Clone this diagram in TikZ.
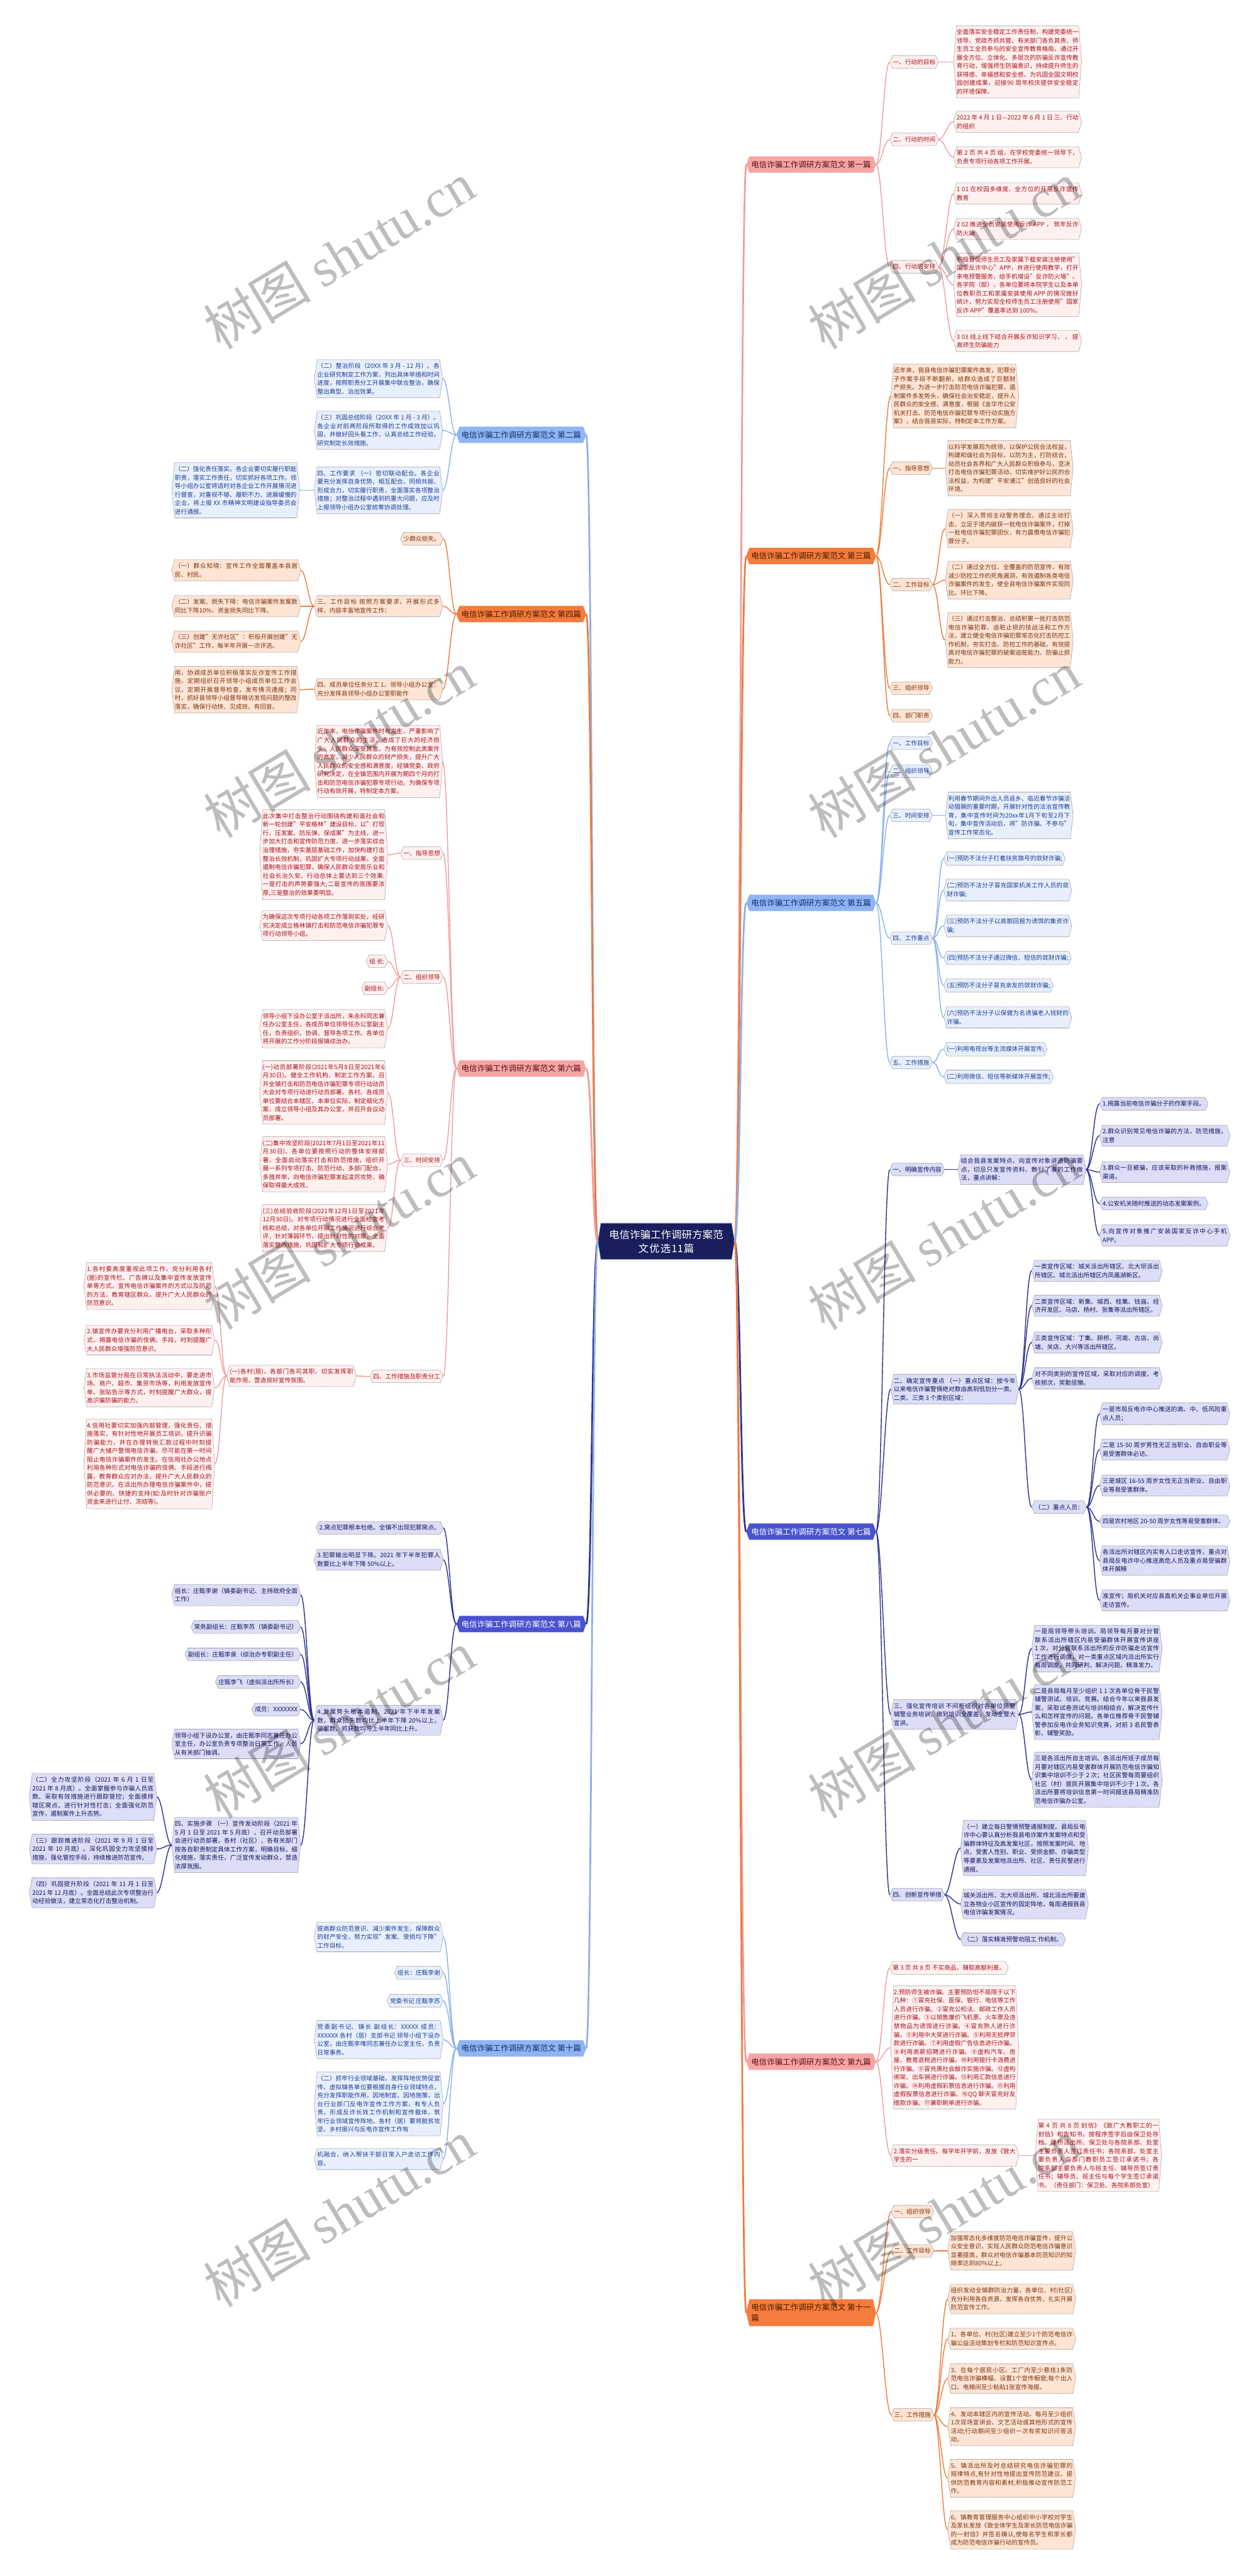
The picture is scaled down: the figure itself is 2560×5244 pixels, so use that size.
\documentclass[tikz,border=0pt]{standalone}
\usepackage{fontspec}
\setmainfont{Noto Sans CJK SC}
\newfontfamily\wmserif{Liberation Serif}
\XeTeXlinebreaklocale "zh"
\XeTeXlinebreakskip=0pt plus 1pt
\usetikzlibrary{backgrounds}
\setlength{\parindent}{0pt}
% colours
\definecolor{pkC}{HTML}{F19C9C}\definecolor{pkF}{HTML}{FFF0F0}\definecolor{pkT}{HTML}{A8151B}\definecolor{pkB}{HTML}{F6A5A5}\definecolor{pkBT}{HTML}{5C1010}
\definecolor{orC}{HTML}{EE7B3B}\definecolor{orF}{HTML}{FDE4D4}\definecolor{orT}{HTML}{7B3511}\definecolor{orB}{HTML}{F47C3C}\definecolor{orBT}{HTML}{4A1B00}
\definecolor{lbC}{HTML}{8BB0EE}\definecolor{lbF}{HTML}{E7EFFC}\definecolor{lbT}{HTML}{1D3F94}\definecolor{lbB}{HTML}{8EB4F3}\definecolor{lbBT}{HTML}{15306B}
\definecolor{inC}{HTML}{2C3192}\definecolor{inF}{HTML}{DCDDF6}\definecolor{inT}{HTML}{14155E}\definecolor{inB}{HTML}{4953CF}
\definecolor{rtF}{HTML}{1A1E5C}
\tikzset{
 base/.style={font=\fontsize{12.4}{17.3}\selectfont, inner xsep=6pt, inner ysep=7pt},
 brbase/.style={font=\fontsize{16}{21}\selectfont, inner xsep=10pt, inner ysep=9pt, align=left},
 bdr/.style={draw=black!55, line width=0.7pt, dash pattern=on 1.5pt off 1pt},
 txpk/.style={base, text=pkT}, bgpk/.style={bdr, fill=pkF},
 txor/.style={base, text=orT}, bgor/.style={bdr, fill=orF},
 txlb/.style={base, text=lbT}, bglb/.style={bdr, fill=lbF},
 txin/.style={base, text=inT}, bgin/.style={bdr, fill=inF},
 txpkB/.style={brbase, text=pkBT}, bgpkB/.style={fill=pkB},
 txorB/.style={brbase, text=orBT}, bgorB/.style={fill=orB},
 txlbB/.style={brbase, text=lbBT}, bglbB/.style={fill=lbB},
 txinB/.style={brbase, text=white}, bginB/.style={fill=inB},
 txrt/.style={font=\fontsize{21}{28}\selectfont, text=white, inner xsep=17pt, inner ysep=13pt, text width=244pt, align=center},
 bgrt/.style={fill=rtF, draw=lbC, line width=0.8pt},
 cpk/.style={draw=pkC, line width=1.8pt}, cor/.style={draw=orC, line width=1.8pt},
 clb/.style={draw=lbC, line width=1.8pt}, cin/.style={draw=inC, line width=1.8pt},
 Rpk/.style={draw=pkC, line width=3.5pt}, Ror/.style={draw=orC, line width=3.5pt},
 Rlb/.style={draw=lbC, line width=3.5pt}, Rin/.style={draw=inC, line width=3.5pt},
 wm/.style={rotate=31, text=black, text opacity=0.26, font=\fontsize{110}{110}\selectfont, inner sep=0pt}
}
\newcommand{\mmhex}[2]{%
 \begin{scope}[on background layer]
 \path[#2] ([xshift=6pt]#1.north west) -- ([xshift=-6pt]#1.north east) -- (#1.east) -- ([xshift=-6pt]#1.south east) -- ([xshift=6pt]#1.south west) -- (#1.west) -- cycle;
 \end{scope}}
\newcommand{\mmW}[7]{\node[tx#2, anchor=#3, text width=#6pt, align=justify] (#1) at (#4,#5) {#7};\mmhex{#1}{bg#2}}
\newcommand{\mmN}[6]{\node[tx#2, anchor=#3] (#1) at (#4,#5) {#6};\mmhex{#1}{bg#2}}
\newcommand{\lkR}[3]{\draw[#1] (#2.east) .. controls +(12,0) and +(-12,0) .. (#3.west);}
\newcommand{\lkL}[3]{\draw[#1] (#2.west) .. controls +(-12,0) and +(12,0) .. (#3.east);}
\begin{document}
\begin{tikzpicture}[x=1pt,y=-1pt]
\begin{scope}[on background layer]
\fill[white] (0,0) rectangle (2560,5244);
\end{scope}
\path[use as bounding box] (0,0) rectangle (2560,5244);

% root
\node[txrt, anchor=center] (root) at (1356,2527) {电信诈骗工作调研方案范\\文优选11篇};
\mmhex{root}{bgrt}

% ===== 第一篇 =====
\mmN{b1}{pkB}{west}{1519}{335}{电信诈骗工作调研方案范文 第一篇}
\mmN{b1a}{pk}{west}{1811}{126}{一、行动的目标}
\mmW{b1a1}{pk}{west}{1941}{126}{248}{全面落实安全稳定工作责任制，构建党委统一领导、党政齐抓共管、有关部门各负其责、师生员工全员参与的安全宣传教育格局，通过开展全方位、立体化、多层次的防骗反诈宣传教育行动，增强师生防骗意识，持续提升师生的获得感、幸福感和安全感，为巩固全国文明校园创建成果，迎接90 周年校庆提供安全稳定的环境保障。}
\mmN{b1b}{pk}{west}{1811}{284}{二、行动的时间}
\mmW{b1b1}{pk}{west}{1941}{248}{248}{2022 年 4 月 1 日—2022 年 6 月 1 日 三、行动的组织}
\mmW{b1b2}{pk}{west}{1941}{320}{248}{第 2 页 共 4 页 组，在学校党委统一领导下，负责专项行动各项工作开展。}
\mmN{b1c}{pk}{west}{1811}{543}{四、行动的安排}
\mmW{b1c1}{pk}{west}{1941}{394}{248}{1 01 在校园多维度、全方位的开展反诈宣传教育}
\mmW{b1c2}{pk}{west}{1941}{466}{248}{2 02 推进全员安装使用反诈 APP ， 筑牢反诈防火墙}
\mmW{b1c3}{pk}{west}{1941}{580}{248}{积极督促师生员工及家属下载安装注册使用"国家反诈中心"APP，并进行使用教学，打开来电预警服务，给手机增设"反诈防火墙"。各学院（部）、各单位要将本院学生以及本单位教职员工和家属安装使用 APP 的情况做好统计，努力实现全校师生员工注册使用"国家反诈 APP"覆盖率达到 100\%。}
\mmW{b1c4}{pk}{west}{1941}{694}{248}{3 03 线上线下结合开展反诈知识学习， ， 提高师生防骗能力}

% ===== 第三篇 =====
\mmN{b3}{orB}{west}{1519}{1132}{电信诈骗工作调研方案范文 第三篇}
\mmW{b3a}{or}{west}{1813}{806}{248}{近年来，我县电信诈骗犯罪案件高发，犯罪分子作案手段不断翻新，给群众造成了巨额财产损失。为进一步打击防范电信诈骗犯罪，遏制案件多发势头，确保社会治安稳定，提升人民群众的安全感、满意度，根据《金华市公安机关打击、防范电信诈骗犯罪专项行动实施方案》，结合我县实际，特制定本工作方案。}
\mmN{b3b}{or}{west}{1811}{953}{一、指导思想}
\mmW{b3b1}{or}{west}{1924}{953}{248}{以科学发展观为统领，以保护公民合法权益，构建和谐社会为目标，以防为主，打防结合，动员社会各界和广大人民群众积极参与，坚决打击电信诈骗犯罪活动，切实维护好公民的合法权益，为构建"平安浦江"创造良好的社会环境。}
\mmN{b3c}{or}{west}{1811}{1190}{二、工作目标}
\mmW{b3c1}{or}{west}{1924}{1076}{248}{（一）深入贯彻主动警务理念，通过主动打击，立足于境内破获一批电信诈骗案件，打掉一批电信诈骗犯罪团伙，有力震慑电信诈骗犯罪分子。}
\mmW{b3c2}{or}{west}{1924}{1181}{248}{（二）通过全方位、全覆盖的防范宣传，有效减少防控工作的死角漏洞，有效遏制各类电信诈骗案件的发生，使全县电信诈骗案件实现同比、环比下降。}
\mmW{b3c3}{or}{west}{1924}{1303}{248}{（三）通过打击整治，总结积累一批打击防范电信诈骗犯罪、追赃止损的技战法和工作方法，建立健全电信诈骗犯罪常态化打击防控工作机制，夯实打击、防控工作的基础，有效提高对电信诈骗犯罪的破案追赃能力、防骗止损能力。}
\mmN{b3d}{or}{west}{1811}{1401}{三、组织领导}
\mmN{b3e}{or}{west}{1811}{1457}{四、部门职责}

% ===== 第五篇 =====
\mmN{b5}{lbB}{west}{1519}{1838}{电信诈骗工作调研方案范文 第五篇}
\mmN{b5a}{lb}{west}{1811}{1513}{一、工作目标}
\mmN{b5b}{lb}{west}{1811}{1570}{二、组织领导}
\mmN{b5c}{lb}{west}{1811}{1660}{三、时间安排}
\mmW{b5c1}{lb}{west}{1924}{1660}{248}{利用春节期间外出人员返乡、临近春节诈骗活动猖獗的重要时期，开展针对性的法治宣传教育，集中宣传时间为20xx年1月下旬至2月下旬，集中宣传活动后，将"防诈骗、不参与"宣传工作常态化。}
\mmN{b5d}{lb}{west}{1811}{1910}{四、工作重点}
\mmN{b5d1}{lb}{west}{1921}{1748}{(一)预防不法分子打着扶贫旗号的敛财诈骗;}
\mmW{b5d2}{lb}{west}{1921}{1812}{248}{(二)预防不法分子冒充国家机关工作人员的敛财诈骗;}
\mmW{b5d3}{lb}{west}{1921}{1885}{248}{(三)预防不法分子以高额回报为诱饵的集资诈骗;}
\mmN{b5d4}{lb}{west}{1921}{1950}{(四)预防不法分子通过微信、短信的敛财诈骗;}
\mmN{b5d5}{lb}{west}{1921}{2006}{(五)预防不法分子冒充亲友的敛财诈骗;}
\mmW{b5d6}{lb}{west}{1921}{2071}{248}{(六)预防不法分子以保健为名诱骗老人钱财的诈骗。}
\mmN{b5e}{lb}{west}{1811}{2163}{五、工作措施}
\mmN{b5e1}{lb}{west}{1921}{2136}{(一)利用电视台等主流媒体开展宣传;}
\mmN{b5e2}{lb}{west}{1921}{2192}{(二)利用微信、短信等新媒体开展宣传;}

% ===== 第七篇 =====
\mmN{b7}{inB}{west}{1519}{3118}{电信诈骗工作调研方案范文 第七篇}
\mmN{b7a}{in}{west}{1811}{2381}{一、明确宣传内容}
\mmW{b7a1}{in}{west}{1950}{2381}{248}{结合我县发案特点，向宣传对象讲透防骗要点，切忌只发宣传资料、敷衍了事的工作做法，重点讲解：}
\mmN{b7a1a}{in}{west}{2238}{2247}{1.揭露当前电信诈骗分子的作案手段。}
\mmW{b7a1b}{in}{west}{2238}{2312}{253}{2.群众识别常见电信诈骗的方法，防范措施，注意}
\mmW{b7a1c}{in}{west}{2238}{2386}{253}{3.群众一旦被骗，应该采取的补救措施，报案渠道。}
\mmN{b7a1d}{in}{west}{2238}{2450}{4.公安机关随时推送的动态发案案例。}
\mmW{b7a1e}{in}{west}{2238}{2515}{253}{5.向宣传对象推广安装国家反诈中心手机APP。}
\mmW{b7b}{in}{west}{1813}{2828}{248}{二、确定宣传重点 （一）重点区域：按今年以来电信诈骗警情绝对数由高到低划分一类、二类、三类 3 个类别区域：}
\mmW{b7b1}{in}{west}{2100}{2587}{253}{一类宣传区域：城关派出所辖区、北大坝派出所辖区、城北派出所辖区内凤凰湖新区。}
\mmW{b7b2}{in}{west}{2100}{2658}{253}{二类宣传区域：新集、城西、桂集、钱庙、经济开发区、马店、杨村、张集等派出所辖区。}
\mmW{b7b3}{in}{west}{2100}{2733}{253}{三类宣传区域：丁集、顾桥、河南、古店、尚塘、关店、大兴等派出所辖区。}
\mmW{b7b4}{in}{west}{2100}{2806}{253}{对不同类别的宣传区域，采取对应的调度、考核频次，奖勤惩懒。}
\mmN{b7b5}{in}{west}{2100}{3068}{（二）重点人员：}
\mmW{b7b5a}{in}{west}{2238}{2878}{253}{一是市局反电诈中心推送的高、中、低风险重点人员；}
\mmW{b7b5b}{in}{west}{2238}{2951}{253}{二是 15-50 周岁男性无正当职业、自由职业等易受害群体必访。}
\mmW{b7b5c}{in}{west}{2238}{3024}{253}{三是城区 16-55 周岁女性无正当职业、自由职业等易受害群体。}
\mmW{b7b5d}{in}{west}{2238}{3097}{253}{四是农村地区 20-50 周岁女性等易受害群体。}
\mmW{b7b5e}{in}{west}{2238}{3177}{253}{各派出所对辖区内实有人口走访宣传，重点对县局反电诈中心推送高危人员及重点易受骗群体开展精}
\mmW{b7b5f}{in}{west}{2238}{3258}{253}{准宣传；局机关对应县直机关企事业单位开展走访宣传。}
\mmW{b7c}{in}{west}{1813}{3490}{248}{三、强化宣传培训 不间断组织对各单位民警辅警业务培训，做到培训全覆盖，发动全警大宣讲。}
\mmW{b7c1}{in}{west}{2100}{3356}{253}{一是局领导带头培训。局领导每月要对分管联系派出所辖区内易受骗群体开展宣传讲座 1 次，对分管联系派出所的反诈防骗走访宣传工作进行调度，对一类重点区域内派出所实行每周调度，共同研判，解决问题，精准发力。}
\mmW{b7c2}{in}{west}{2100}{3485}{253}{二是县局每月至少组织 1 1 次各单位骨干民警辅警测试、培训、竞赛。结合今年以来我县发案，采取试卷测试与培训相结合，解决宣传什么和怎样宣传的问题。各单位推荐骨干民警辅警参加反电诈业务知识竞赛，对前 3 名民警表彰、辅警奖励。}
\mmW{b7c3}{in}{west}{2100}{3623}{253}{三是各派出所自主培训。各派出所班子成员每月要对辖区内易受害群体开展防范电信诈骗知识集中培训不少于 2 次；社区民警每周要组织社区（村）居民开展集中培训不少于 1 次。各派出所要将培训信息第一时间报送县局精准防范电信诈骗办公室。}
\mmN{b7d}{in}{west}{1811}{3857}{四、创新宣传举措}
\mmW{b7d1}{in}{west}{1955}{3762}{248}{（一）建立每日警情预警通报制度。县局反电诈中心要认真分析我县电诈案件发案特点和受骗群体特征及高发案社区，按照发案时间、地点、受害人性别、职业、受损金额、诈骗类型等要素及发案地派出所、社区、责任民警进行通报。}
\mmW{b7d2}{in}{west}{1955}{3876}{248}{城关派出所、北大坝派出所、城北派出所要建立各物业小区宣传的固定阵地，每周通报我县电信诈骗发案情况。}
\mmN{b7d3}{in}{west}{1955}{3948}{（二）落实精准预警劝阻工 作机制。}

% ===== 第九篇 =====
\mmN{b9}{pkB}{west}{1519}{4197}{电信诈骗工作调研方案范文 第九篇}
\mmN{b9a}{pk}{west}{1811}{4006}{第 3 页 共 8 页 不实商品，赚取高额利差。}
\mmW{b9b}{pk}{west}{1813}{4168}{248}{2.预防师生被诈骗。主要预防但不局限于以下几种：①冒充社保、医保、银行、电信等工作人员进行诈骗。②冒充公检法、邮政工作人员进行诈骗。③以销售廉价飞机票、火车票及违禁物品为诱饵进行诈骗。④冒充熟人进行诈骗。⑤利用中大奖进行诈骗。⑤利用无抵押贷款进行诈骗。⑦利用虚假广告信息进行诈骗。⑧利用高薪招聘进行诈骗。⑨虚构汽车、房屋、教育退税进行诈骗。⑩利用银行卡消费进行诈骗。⑪冒充黑社会敲诈实施诈骗。⑫虚构绑架、出车祸进行诈骗。⑬利用汇款信息进行诈骗。⑭利用虚假彩票信息进行诈骗。⑮利用虚假股票信息进行诈骗。⑯QQ 聊天冒充好友借款诈骗。⑰兼职刷单进行诈骗。}
\mmW{b9c}{pk}{west}{1813}{4388}{248}{2.落实分级责任。每学年开学前，发放《致大学生的一}
\mmW{b9c1}{pk}{west}{2107}{4388}{245}{第 4 页 共 8 页 封信》《致广大教职工的一封信》和告知书，按程序签字后由保卫处存档。建桥派出所、保卫处与各院系部、处室主要负责人签订责任书；各院系部、处室主要负责人与部门教职员工签订承诺书；各院系部主要负责人与班主任、辅导员签订责任书；辅导员、班主任与每个学生签订承诺书。（责任部门：保卫处、各院系部处室）}

% ===== 第十一篇 =====
\mmN{b11}{orB}{west}{1519}{4708}{电信诈骗工作调研方案范文 第十一\\篇}
\mmN{b11a}{or}{west}{1814}{4502}{一、组织领导}
\mmN{b11b}{or}{west}{1814}{4582}{二、工作目标}
\mmW{b11b1}{or}{west}{1929}{4582}{248}{加强常态化多维度防范电信诈骗宣传，提升公众安全意识，实现人民群众防范电信诈骗意识显著提高，群众对电信诈骗基本防范知识的知晓率达到80\%以上。}
\mmN{b11c}{or}{west}{1814}{4916}{三、工作措施}
\mmW{b11c1}{or}{west}{1929}{4680}{248}{组织发动全镇群防治力量，各单位、村(社区)充分利用各自资源，发挥各自优势，扎实开展防范宣传工作。}
\mmW{b11c2}{or}{west}{1929}{4761}{248}{1、各单位、村(社区)建立至少1个防范电信诈骗公益活动策划专栏和防范知识宣传点。}
\mmW{b11c3}{or}{west}{1929}{4842}{248}{3、在每个居民小区、工厂内至少悬挂1条防范电信诈骗横幅、设置1个宣传橱窗;每个出入口、电梯间至少粘贴1张宣传海报。}
\mmW{b11c4}{or}{west}{1929}{4940}{248}{4、发动本辖区内的宣传活动，每月至少组织1次现场宣讲会、文艺活动或其他形式的宣传活动;行动期间至少组织一次有奖知识问答活动。}
\mmW{b11c5}{or}{west}{1929}{5045}{248}{5、镇派出所及时总结研究电信诈骗犯罪的规律特点,有针对性地提出宣传防范建议，提供防范教育内容和素材,积极推动宣传防范工作。}
\mmW{b11c6}{or}{west}{1929}{5150}{248}{6、镇教育管理服务中心组织中小学校对学生及家长发放《致全体学生及家长防范电信诈骗的一封信》并签名确认,使每名学生和家长都成为防范电信诈骗行动的宣传员。}

% ===== 第二篇 =====
\mmN{b2}{lbB}{east}{1193}{885}{电信诈骗工作调研方案范文 第二篇}
\mmW{b2a}{lb}{east}{901}{771}{249}{（二）整治阶段（20XX 年 3 月 - 12 月）。各企业研究制定工作方案，列出具体举措和时间进度，按照职责分工开展集中联合整治，确保整出典型、治出效果。}
\mmW{b2b}{lb}{east}{901}{876}{249}{（三）巩固总结阶段（20XX 年 1 月 - 3 月）。各企业对前两阶段所取得的工作成效加以巩固，并做好回头看工作，认真总结工作经验，研究制定长效措施。}
\mmW{b2c}{lb}{east}{901}{998}{249}{四、工作要求 （一）密切联动配合。各企业要充分发挥自身优势，相互配合，同频共振、形成合力，切实履行职责，全面落实各项整治措施；对整治过程中遇到的重大问题，应及时上报领导小组办公室统筹协调处理。}
\mmW{b2c1}{lb}{east}{610}{998}{248}{（二）强化责任落实。各企业要切实履行职能职责，落实工作责任，切实抓好各项工作。领导小组办公室将适时对各企业工作开展情况进行督查，对重视不够、履职不力、进展缓慢的企业，将上报 XX 市精神文明建设指导委员会进行通报。}

% ===== 第四篇 =====
\mmN{b4}{orB}{east}{1193}{1250}{电信诈骗工作调研方案范文 第四篇}
\mmN{b4a}{or}{east}{902}{1097}{少群众损失。}
\mmW{b4b}{or}{east}{901}{1234}{249}{三、工作目标 按照方案要求，开展形式多样、内容丰富地宣传工作：}
\mmW{b4b1}{or}{east}{612}{1161}{250}{（一）群众知晓：宣传工作全面覆盖本县居民、村民。}
\mmW{b4b2}{or}{east}{612}{1234}{250}{（二）发案、损失下降：电信诈骗案件发案数同比下降10\%，资金损失同比下降。}
\mmW{b4b3}{or}{east}{612}{1306}{250}{（三）创建"无诈社区"：积极开展创建"无诈社区"工作，每半年开展一次评选。}
\mmW{b4c}{or}{east}{901}{1403}{249}{四、成员单位任务分工 1、领导小组办公室：充分发挥县领导小组办公室职能作}
\mmW{b4c1}{or}{east}{610}{1404}{248}{用，协调成员单位积极落实反诈宣传工作措施，定期组织召开领导小组成员单位工作会议，定期开展督导检查，发布情况通报；同时，抓好县领导小组督导暗访发现问题的整改落实，确保行动快、见成效、有回音。}

% ===== 第六篇 =====
\mmN{b6}{pkB}{east}{1193}{2175}{电信诈骗工作调研方案范文 第六篇}
\mmW{b6x}{pk}{east}{901}{1550}{249}{近年来，电信诈骗案件时有发生，严重影响了广大人民群众的生活，造成了巨大的经济损失，人民群众深受其害。为有效控制此类案件的高发，减少人民群众的财产损失，提升广大人民群众的安全感和满意度，经镇党委、政府研究决定，在全镇范围内开展为期四个月的打击和防范电信诈骗犯罪专项行动。为确保专项行动有效开展，特制定本方案。}
\mmN{b6a}{pk}{east}{902}{1737}{一、指导思想}
\mmW{b6a1}{pk}{east}{789}{1740}{248}{此次集中打击整治行动围绕构建和谐社会和新一轮创建"平安格林"建设目标，以"打现行、压发案、防反弹、保成果"为主线，进一步加大打击和宣传防范力度，进一步落实综合治理措施，夯实基层基础工作，加快构建打击整治长效机制，巩固扩大专项行动战果，全面遏制电信诈骗犯罪，确保人民群众安居乐业和社会长治久安。行动总体上要达到三个效果:一是打击的声势要强大;二是宣传的氛围要浓厚;三是整治的效果要明显。}
\mmN{b6b}{pk}{east}{902}{1989}{二、组织领导}
\mmW{b6b1}{pk}{east}{789}{1884}{248}{为确保这次专项行动各项工作落到实处，经研究决定成立格林镇打击和防范电信诈骗犯罪专项行动领导小组。}
\mmN{b6b2}{pk}{east}{789}{1957}{组 长:}
\mmN{b6b3}{pk}{east}{789}{2012}{副组长:}
\mmW{b6b4}{pk}{east}{789}{2094}{248}{领导小组下设办公室于派出所，朱永科同志兼任办公室主任，各成员单位领导任办公室副主任，负责组织、协调、督导各项工作。各单位将开展的工作分阶段报镇综治办。}
\mmN{b6c}{pk}{east}{902}{2362}{三、时间安排}
\mmW{b6c1}{pk}{east}{789}{2224}{248}{(一)动员部署阶段(2021年5月8日至2021年6月30日)。健全工作机构，制定工作方案，召开全镇打击和防范电信诈骗犯罪专项行动动员大会对专项行动进行动员部署。各村、各成员单位要结合本辖区、本单位实际，制定细化方案，成立领导小组及其办公室，并召开会议动员部署。}
\mmW{b6c2}{pk}{east}{789}{2370}{248}{(二)集中攻坚阶段(2021年7月1日至2021年11月30日)。各单位要按照行动的整体安排部署，全面启动落实打击和防范措施，组织开展一系列专项打击、防范行动，多部门配合，多措并举，向电信诈骗犯罪发起凌厉攻势，确保取得最大成效。}
\mmW{b6c3}{pk}{east}{789}{2500}{248}{(三)总结验收阶段(2021年12月1日至2021年12月30日)。对专项行动情况进行全面检查考核和总结，对各单位开展工作情况进行综合考评，针对薄弱环节，提出针对性的对策，全面落实整改措施，巩固和扩大专项行动成果。}
\mmN{b6d}{pk}{east}{902}{2802}{四、工作措施及职责分工}
\mmW{b6d1}{pk}{east}{725}{2801}{251}{(一)各村(居)，各部门各司其职，切实发挥职能作用，营造良好宣传氛围。}
\mmW{b6d1a}{pk}{east}{437}{2618}{254}{1.各村要高度重视此项工作，充分利用各村(居)的宣传栏、广告牌以及集中宣传发放宣传单等方式，宣传电信诈骗案件的方式以及防范的方法，教育辖区群众，提升广大人民群众的防范意识。}
\mmW{b6d1b}{pk}{east}{437}{2728}{254}{2.镇宣传办要充分利用广播电台，采取多种形式，揭露电信诈骗的伎俩、手段，时刻提醒广大人民群众增强防范意识。}
\mmW{b6d1c}{pk}{east}{437}{2825}{254}{3.市场监管分局在日常执法活动中，要走进市场、商户、超市、集贸市场等，利用发放宣传单、张贴告示等方式，时刻提醒广大群众，提高识骗防骗的能力。}
\mmW{b6d1d}{pk}{east}{437}{2980}{254}{4.信用社要切实加强内部管理，强化责任、措施落实，有针对性地开展员工培训，提升识骗防骗能力，并在办理转账汇款过程中时刻提醒广大储户警惕电信诈骗，尽可能在第一时间阻止电信诈骗案件的发生。在信用社办公地点利用各种形式对电信诈骗的伎俩、手段进行揭露，教育群众应对办法，提升广大人民群众的防范意识。在派出所办理电信诈骗案件中，提供必要的、快捷的支持(如:及时针对诈骗账户资金来进行止付、冻结等)。}

% ===== 第八篇 =====
\mmN{b8}{inB}{east}{1193}{3306}{电信诈骗工作调研方案范文 第八篇}
\mmN{b8a}{in}{east}{902}{3110}{2.窝点犯罪根本杜绝。全镇不出现犯罪窝点。}
\mmW{b8b}{in}{east}{902}{3175}{250}{3.犯罪输出明显下降。2021 年下半年犯罪人数要比上半年下降 50\%以上。}
\mmW{b8c}{in}{east}{902}{3502}{250}{4.发案势头根本遏制。2021 年下半年发案数，群众损失数均比上半年下降 20\%以上，破案数、抓获数均与上半年同比上升。}
\mmW{b8c1}{in}{east}{612}{3247}{250}{组长：庄甄李谢（镇委副书记、主持政府全面工作）}
\mmN{b8c2}{in}{east}{612}{3312}{常务副组长：庄甄李苏（镇委副书记）}
\mmN{b8c3}{in}{east}{612}{3368}{副组长：庄甄李泉（综治办专职副主任）}
\mmN{b8c4}{in}{east}{612}{3424}{庄甄李飞（虚拟派出所所长）}
\mmN{b8c5}{in}{east}{612}{3480}{成员：XXXXXXX}
\mmW{b8c6}{in}{east}{612}{3550}{250}{领导小组下设办公室，由庄甄李同志兼任办公室主任，办公室负责专项整治日常工作，人员从有关部门抽调。}
\mmW{b8c7}{in}{east}{612}{3756}{250}{四、实施步骤 （一）宣传发动阶段（2021 年 5 月 1 日至 2021 年 5 月底），召开动员部署会进行动员部署，各村（社区）、各有关部门按各自职责制定具体工作方案，明确目标，细化措施，落实责任，广泛宣传发动群众，营造浓厚氛围。}
\mmW{b8c7a}{in}{east}{319}{3658}{247}{（二）全力攻坚阶段（2021 年 6 月 1 日至 2021 年 8 月底）。全面掌握参与诈骗人员底数、采取有效措施进行跟踪管控；全面摸排辖区窝点，进行针对性打击；全面强化防范宣传，遏制案件上升态势。}
\mmW{b8c7b}{in}{east}{319}{3764}{247}{（三）跟踪推进阶段（2021 年 9 月 1 日至 2021 年 10 月底）。深化巩固全力攻坚摸排措施，强化管控手段，持续推进防范宣传。}
\mmW{b8c7c}{in}{east}{319}{3853}{247}{（四）巩固提升阶段（2021 年 11 月 1 日至 2021 年 12 月底）。全面总结此次专项整治行动经验做法，建立常态化打击整治机制。}

% ===== 第十篇 =====
\mmN{b10}{lbB}{east}{1193}{4170}{电信诈骗工作调研方案范文 第十篇}
\mmW{b10a}{lb}{east}{902}{3943}{250}{提高群众防范意识、减少案件发生，保障群众的财产安全，努力实现"发案、受损均下降"工作目标。}
\mmN{b10b}{lb}{east}{902}{4016}{组长：庄甄李谢}
\mmN{b10c}{lb}{east}{902}{4073}{党委书记 庄甄李苏}
\mmW{b10d}{lb}{east}{902}{4152}{250}{党委副书记、镇长 副组长：XXXXX 成员：XXXXXX 各村（居）支部书记 领导小组下设办公室，由庄甄李唯同志兼任办公室主任，负责日常事务。}
\mmW{b10e}{lb}{east}{902}{4283}{250}{（二）抓牢行业领域基础，发挥阵地优势促宣传。虚拟镇各单位要根据自身行业领域特点，充分发挥职能作用，因地制宜、因地施策，出台行业部门反电诈宣传工作方案，有专人负责，形成反诈长效工作机制和宣传载体，筑牢行业领域宣传阵地。各村（居）要将脱贫攻坚、乡村振兴与反电诈宣传工作有}
\mmW{b10f}{lb}{east}{902}{4395}{250}{机融合，纳入帮扶干部日常入户走访工作内容。}

% ===== connectors =====
\lkR{Rpk}{root}{b1}\lkR{Ror}{root}{b3}\lkR{Rlb}{root}{b5}\lkR{Rin}{root}{b7}\lkR{Rpk}{root}{b9}\lkR{Ror}{root}{b11}
\lkL{Rlb}{root}{b2}\lkL{Ror}{root}{b4}\lkL{Rpk}{root}{b6}\lkL{Rin}{root}{b8}\lkL{Rlb}{root}{b10}
\foreach \nn in {b1a,b1b,b1c} {\lkR{cpk}{b1}{\nn}}
\lkR{cpk}{b1a}{b1a1}
\foreach \nn in {b1b1,b1b2} {\lkR{cpk}{b1b}{\nn}}
\foreach \nn in {b1c1,b1c2,b1c3,b1c4} {\lkR{cpk}{b1c}{\nn}}
\foreach \nn in {b3a,b3b,b3c,b3d,b3e} {\lkR{cor}{b3}{\nn}}
\lkR{cor}{b3b}{b3b1}
\foreach \nn in {b3c1,b3c2,b3c3} {\lkR{cor}{b3c}{\nn}}
\foreach \nn in {b5a,b5b,b5c,b5d,b5e} {\lkR{clb}{b5}{\nn}}
\lkR{clb}{b5c}{b5c1}
\foreach \nn in {b5d1,b5d2,b5d3,b5d4,b5d5,b5d6} {\lkR{clb}{b5d}{\nn}}
\foreach \nn in {b5e1,b5e2} {\lkR{clb}{b5e}{\nn}}
\foreach \nn in {b7a,b7b,b7c,b7d} {\lkR{cin}{b7}{\nn}}
\lkR{cin}{b7a}{b7a1}
\foreach \nn in {b7a1a,b7a1b,b7a1c,b7a1d,b7a1e} {\lkR{cin}{b7a1}{\nn}}
\foreach \nn in {b7b1,b7b2,b7b3,b7b4,b7b5} {\lkR{cin}{b7b}{\nn}}
\foreach \nn in {b7b5a,b7b5b,b7b5c,b7b5d,b7b5e,b7b5f} {\lkR{cin}{b7b5}{\nn}}
\foreach \nn in {b7c1,b7c2,b7c3} {\lkR{cin}{b7c}{\nn}}
\foreach \nn in {b7d1,b7d2,b7d3} {\lkR{cin}{b7d}{\nn}}
\foreach \nn in {b9a,b9b,b9c} {\lkR{cpk}{b9}{\nn}}
\lkR{cpk}{b9c}{b9c1}
\foreach \nn in {b11a,b11b,b11c} {\lkR{cor}{b11}{\nn}}
\lkR{cor}{b11b}{b11b1}
\foreach \nn in {b11c1,b11c2,b11c3,b11c4,b11c5,b11c6} {\lkR{cor}{b11c}{\nn}}
\foreach \nn in {b2a,b2b,b2c} {\lkL{clb}{b2}{\nn}}
\lkL{clb}{b2c}{b2c1}
\foreach \nn in {b4a,b4b,b4c} {\lkL{cor}{b4}{\nn}}
\foreach \nn in {b4b1,b4b2,b4b3} {\lkL{cor}{b4b}{\nn}}
\lkL{cor}{b4c}{b4c1}
\foreach \nn in {b6x,b6a,b6b,b6c,b6d} {\lkL{cpk}{b6}{\nn}}
\lkL{cpk}{b6a}{b6a1}
\foreach \nn in {b6b1,b6b2,b6b3,b6b4} {\lkL{cpk}{b6b}{\nn}}
\foreach \nn in {b6c1,b6c2,b6c3} {\lkL{cpk}{b6c}{\nn}}
\lkL{cpk}{b6d}{b6d1}
\foreach \nn in {b6d1a,b6d1b,b6d1c,b6d1d} {\lkL{cpk}{b6d1}{\nn}}
\foreach \nn in {b8a,b8b,b8c} {\lkL{cin}{b8}{\nn}}
\foreach \nn in {b8c1,b8c2,b8c3,b8c4,b8c5,b8c6,b8c7} {\lkL{cin}{b8c}{\nn}}
\foreach \nn in {b8c7a,b8c7b,b8c7c} {\lkL{cin}{b8c7}{\nn}}
\foreach \nn in {b10a,b10b,b10c,b10d,b10e,b10f} {\lkL{clb}{b10}{\nn}}

% ===== watermark =====
\foreach \wx in {690,1921} {
 \foreach \wy in {520,1515,2515,3510,4505} {
  \node[wm] at (\wx,\wy) {树图 {\wmserif shutu.cn}};
 }
}
\end{tikzpicture}
\end{document}
